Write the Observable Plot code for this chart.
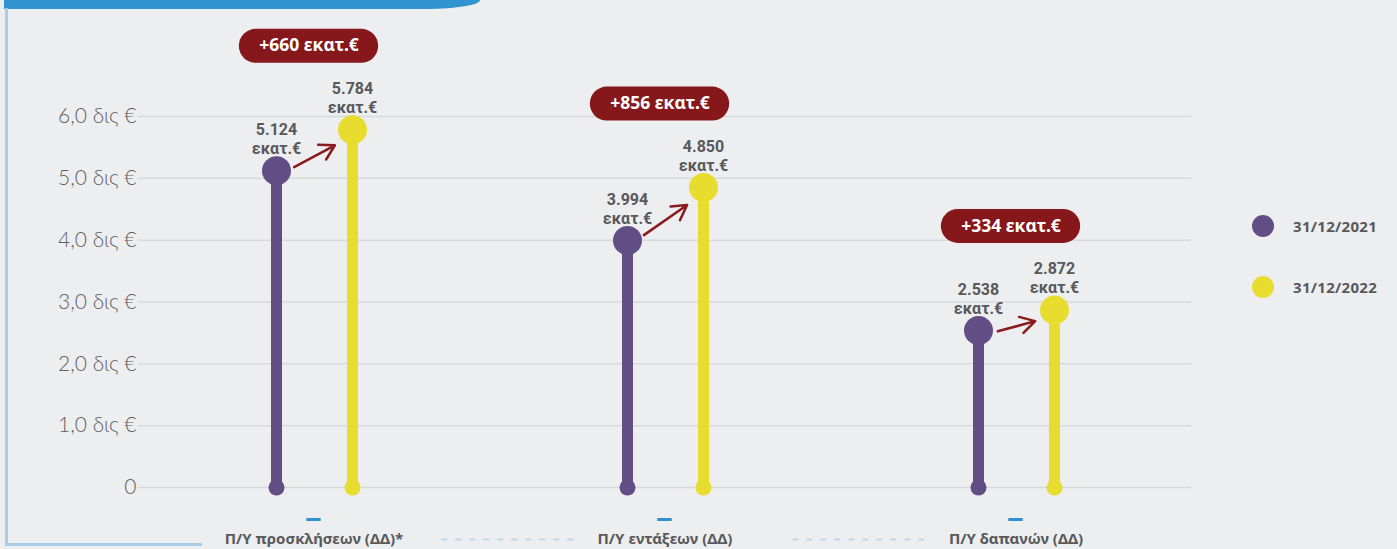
<!DOCTYPE html>
<html>
<head>
<meta charset="utf-8">
<script src="https://cdn.jsdelivr.net/npm/d3@7"></script>
<script src="https://cdn.jsdelivr.net/npm/@observablehq/plot@0.6"></script>
<style>
  html, body { margin: 0; padding: 0; background: #edeef0; }
  #wrap { position: relative; width: 1397px; height: 549px; overflow: hidden; background: #edeef0; font-family: "Noto Sans", "Open Sans", sans-serif; }
  #topbar { position: absolute; left: 4px; top: 0; width: 476px; height: 9px; background: #3193d0; border-bottom-right-radius: 52px 9px; }
  #leftline { position: absolute; left: 5px; top: 8px; width: 3px; height: 538px; background: #a9cde7; }
  #bottomline { position: absolute; left: 5px; top: 543px; width: 197px; height: 3px; background: #a9cde7; }
  #chart { position: absolute; left: 0; top: 0; }
  #legend { position: absolute; left: 1252px; top: 0; }
  .li { position: absolute; left: 0; display: flex; align-items: center; white-space: nowrap; }
  .sw { width: 22px; height: 22px; border-radius: 50%; margin-right: 19px; }
  .lt { font-family: "Noto Sans", sans-serif; font-weight: 700; font-size: 15px; color: #58595b; letter-spacing: 0.3px; }
</style>
</head>
<body>
<div id="wrap">
  <div id="topbar"></div>
  <div id="leftline"></div>
  <div id="bottomline"></div>
  <div id="chart"></div>
  <div id="legend"></div>
</div>
<script>
// ---- data ----
const categories = ["Π/Υ προσκλήσεων (ΔΔ)*", "Π/Υ εντάξεων (ΔΔ)", "Π/Υ δαπανών (ΔΔ)"];
const seriesLabels = ["31/12/2021", "31/12/2022"];
const values2021 = [5124, 3994, 2538]; // εκατ. €
const values2022 = [5784, 4850, 2872]; // εκατ. €
const yTicks = [0, 1, 2, 3, 4, 5, 6];  // δις €
const yTickLabels = ["0", "1,0 δις €", "2,0 δις €", "3,0 δις €", "4,0 δις €", "5,0 δις €", "6,0 δις €"];
const seriesColors = ["#624e85", "#e8dc2f"];
const unitLabel = "εκατ.€";

// ---- derived tables ----
const points = categories.flatMap((c, i) => [
  {category: c, series: seriesLabels[0], value: values2021[i]},
  {category: c, series: seriesLabels[1], value: values2022[i]}
]);
const pairs = categories.map((c, i) => ({category: c, from: values2021[i], to: values2022[i], diff: values2022[i] - values2021[i]}));
const fmt = v => d3.format(",")(v).replace(/,/g, ".");
const bn = v => v / 1000;

const W = 1397, H = 549, ML = 137, MR = 205;
const facetW = (W - ML - MR) / categories.length;
const gap = 77;
const pad = (facetW / gap - 1) / 2;

const labelColor = "#58595b";
const badgeColor = "#86171a";

const chart = Plot.plot({
  width: W, height: H,
  marginLeft: ML, marginRight: MR, marginTop: 116, marginBottom: 62,
  style: {background: "transparent", fontFamily: "'Noto Sans', sans-serif", overflow: "visible"},
  fx: {domain: categories, padding: 0, axis: null},
  x: {type: "point", domain: seriesLabels, padding: pad, axis: null},
  y: {domain: [0, 6]},
  color: {domain: seriesLabels, range: seriesColors},
  marks: [
    Plot.ruleY(yTicks, {stroke: "#d8d9dc", strokeWidth: 1.5}),
    Plot.axisY({
      ticks: yTicks, tickSize: 0, tickPadding: 2,
      tickFormat: d => yTickLabels[yTicks.indexOf(d)],
      fontSize: 21, fontWeight: 300, fill: "#5e5f61", label: null,
      fontFamily: "Lato, 'Open Sans', sans-serif"
    }),
    // stems
    Plot.ruleX(points, {fx: "category", x: "series", y1: () => 0, y2: d => bn(d.value), stroke: "series", strokeWidth: 11}),
    Plot.dot(points, {fx: "category", x: "series", y: () => 0, fill: "series", r: 8}),
    Plot.dot(points, {fx: "category", x: "series", y: d => bn(d.value), fill: "series", r: 14.5}),
    // arrows
    Plot.arrow(pairs, {
      fx: "category", x1: () => seriesLabels[0], x2: () => seriesLabels[1],
      y1: d => bn(d.from), y2: d => bn(d.to),
      stroke: "#8b1a1d", strokeWidth: 2.5, insetStart: 20, insetEnd: 20, headLength: 10, dy: 6
    }),
    // value labels
    Plot.text(points, {
      fx: "category", x: "series", y: d => bn(d.value),
      text: d => fmt(d.value) + "\n" + unitLabel,
      lineAnchor: "bottom", dy: -17, fontSize: 16, fontWeight: 700, fill: labelColor, lineHeight: 1.18,
      fontFamily: "Roboto, sans-serif"
    }),
    // badges
    Plot.tickY(pairs, {
      fx: "category", y: d => bn(d.to), dy: -84, dx: -5,
      stroke: badgeColor, strokeWidth: 34, strokeLinecap: "round",
      insetLeft: (facetW - 106) / 2, insetRight: (facetW - 106) / 2
    }),
    Plot.text(pairs, {
      fx: "category", y: d => bn(d.to), dy: -84, dx: -5,
      text: d => "+" + fmt(d.diff) + " " + unitLabel,
      fill: "white", fontSize: 17.5, fontWeight: 700
    }),
    // category labels and decorations
    Plot.tickY(categories, {
      fx: d => d, y: () => 0, dy: 32,
      insetLeft: (facetW - 15) / 2, insetRight: (facetW - 15) / 2,
      stroke: "#2f8fd0", strokeWidth: 3
    }),
    Plot.tickY(categories.slice(0, 2), {
      fx: d => d, y: () => 0, dy: 52, dx: 196,
      insetLeft: (facetW - 137) / 2, insetRight: (facetW - 137) / 2,
      stroke: "#b9d8ee", strokeWidth: 2, strokeDasharray: "6,8"
    }),
    Plot.text(categories, {
      fx: d => d, text: d => d, frameAnchor: "bottom", dy: 56,
      fontSize: 15, fontWeight: 700, fill: labelColor
    })
  ]
});
document.getElementById("chart").appendChild(chart);

// legend
const legend = document.getElementById("legend");
const legendTops = [215, 276];
seriesLabels.forEach((s, i) => {
  const row = document.createElement("div");
  row.className = "li";
  row.style.top = legendTops[i] + "px";
  row.innerHTML = `<div class="sw" style="background:${seriesColors[i]}"></div><span class="lt">${s}</span>`;
  legend.appendChild(row);
});
</script>
</body>
</html>
